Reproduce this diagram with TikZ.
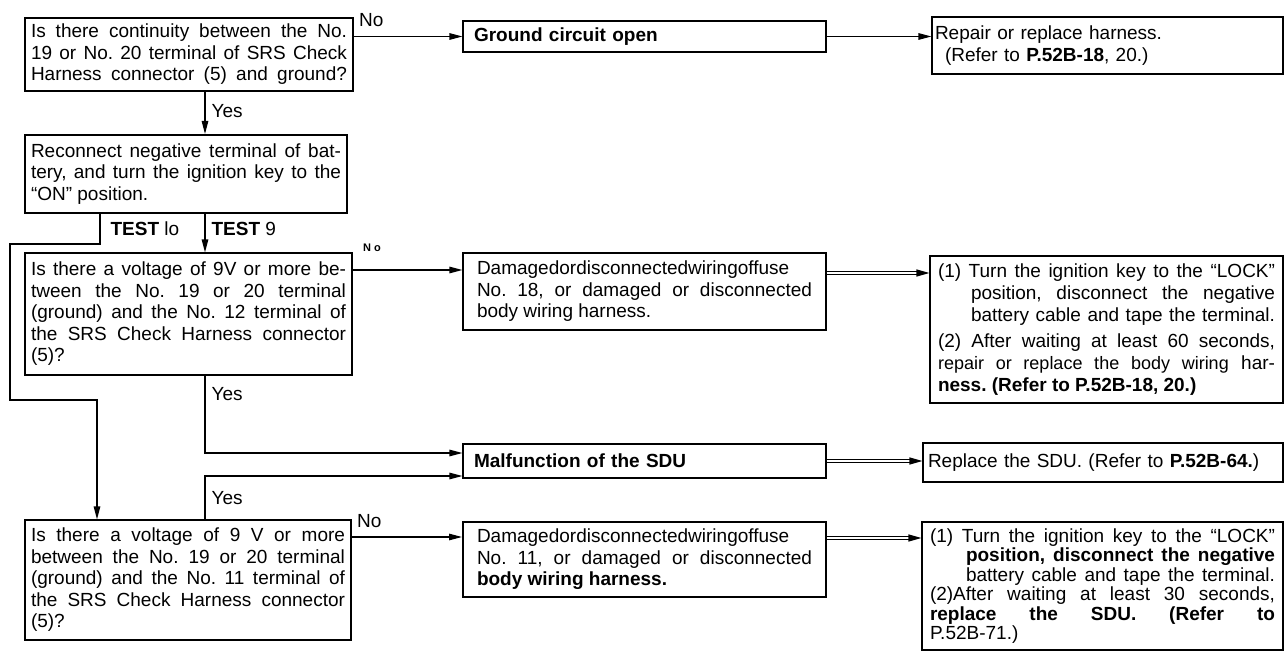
\documentclass[tikz,border=0pt]{standalone}
\usepackage{fontspec}
\setmainfont{Liberation Sans}
\usetikzlibrary{arrows.meta, positioning, calc}
\frenchspacing
\pretolerance=10000
\tolerance=10000
\hbadness=10000
\newcommand{\boxfont}{\fontsize{19}{21.5}\selectfont}

\begin{document}
\begin{tikzpicture}[
    x=1pt, y=-1pt,
    box/.style={draw, line width=1.1pt, font=\boxfont, align=justify, inner ysep=2pt},
    heavybox/.style={box, line width=2pt},
    linebox/.style={box, align=left},
    edge/.style={draw, line width=1.2pt, -{Triangle[length=13pt,width=6.5pt]}},
    dedge/.style={draw, line width=1.1pt, double, double distance=2.2pt, -{Triangle[length=13pt,width=7pt]}},
    lbl/.style={font=\boxfont, inner sep=2pt},
    nolbl/.style={lbl, anchor=south west, xshift=3pt, yshift=7pt}
]
\useasboundingbox (0,0) rectangle (1286,671);

% Left column: checks
\node[box, minimum width=328pt, minimum height=73pt, text width=316pt, inner xsep=6pt] (qcont) at (189,54.5) {
    Is there continuity between the No.\linebreak 19 or No. 20 terminal of SRS Check\linebreak Harness connector (5) and ground?{\parfillskip=0pt\par}
};
\node[heavybox, minimum width=322pt, minimum height=78pt, text width=310pt, inner xsep=6pt] (reconn) at (186,174) {
    Reconnect negative terminal of bat-\linebreak tery, and turn the ignition key to the\linebreak “ON” position.
};
\node[box, minimum width=327pt, minimum height=122pt, text width=315pt, inner xsep=6pt] (qv12) at (188.5,314) {
    Is there a voltage of 9V or more be-\linebreak tween the No. 19 or 20 terminal\linebreak (ground) and the No. 12 terminal of\linebreak the SRS Check Harness connector\linebreak (5)?
};
\node[box, minimum width=326pt, minimum height=120pt, text width=314pt, inner xsep=6pt] (qv11) at (188,580) {
    Is there a voltage of 9 V or more\linebreak between the No. 19 or 20 terminal\linebreak (ground) and the No. 11 terminal of\linebreak the SRS Check Harness connector\linebreak (5)?
};

% Middle column: causes
\node[linebox, minimum width=363pt, minimum height=31pt, text width=341pt, inner xsep=11pt] (gopen) at (644.5,36.5) {\textbf{Ground circuit open}};
\node[box, minimum width=363pt, minimum height=77pt, text width=335pt, inner xsep=14pt] (dmg18) at (644.5,291.5) {
    Damagedordisconnectedwiringoffuse\linebreak No. 18, or damaged or disconnected\linebreak body wiring harness.
};
\node[linebox, minimum width=363pt, minimum height=34pt, text width=341pt, inner xsep=11pt] (sdufail) at (644.5,461) {\textbf{Malfunction of the SDU}};
\node[heavybox, minimum width=363pt, minimum height=75pt, text width=335pt, inner xsep=14pt] (dmg11) at (644.5,559.5) {
    Damagedordisconnectedwiringoffuse\linebreak No. 11, or damaged or disconnected\linebreak \textbf{body wiring harness.}
};

% Right column: remedies
\node[linebox, minimum width=351pt, minimum height=57pt, text width=345pt, inner xsep=3pt] (repair) at (1107.5,45.5) {
    Repair or replace harness.\\\hspace*{10pt}(Refer to \textbf{P.52B-18}, 20.)
};
\node[box, minimum width=353pt, minimum height=147pt, text width=337pt, inner xsep=8pt, font=\fontsize{19}{22}\selectfont] (lock60) at (1106.5,329.5) {
    \hangindent=33pt \hangafter=1 (1) Turn the ignition key to the “LOCK”\linebreak position, disconnect the negative\linebreak battery cable and tape the terminal.{\parfillskip=0pt\par}\vspace{4pt}
    \hangindent=33pt \hangafter=1 (2) After waiting at least 60 seconds,\linebreak {\fontsize{18}{22}\selectfont repair or replace the body wiring} har-\linebreak \textbf{ness. (Refer to P.52B-18, 20.)}
};
\node[linebox, minimum width=360pt, minimum height=39pt, text width=350pt, inner xsep=5pt] (rplsdu) at (1103,462.5) {
    Replace the SDU. (Refer to \textbf{P.52B-64.})
};
\node[box, minimum width=361pt, minimum height=128pt, text width=345pt, inner xsep=8pt, font=\fontsize{19}{19.5}\selectfont] (lock30) at (1102.5,586) {
    \hangindent=36pt \hangafter=1 (1) Turn the ignition key to the “LOCK”\linebreak \textbf{position, disconnect the negative}\linebreak battery cable and tape the terminal.{\parfillskip=0pt\par}
    \hangindent=36pt \hangafter=1 (2)After waiting at least 30 seconds,\linebreak \textbf{replace the SDU. (Refer to}\linebreak P.52B-71.)
};

% Entry points on the cause boxes
\coordinate (d18in) at ([yshift=21.5pt]dmg18.west);
\coordinate (d18out) at ([yshift=18.5pt]dmg18.east);
\coordinate (sduinA) at ([yshift=8pt]sdufail.west);
\coordinate (sduinB) at ([yshift=-15pt]sdufail.west);
\coordinate (d11in) at ([yshift=22.5pt]dmg11.west);
\coordinate (d11out) at ([yshift=21.5pt]dmg11.east);
\coordinate (bendL) at (10,400);

% Connecting Arrows
\draw[edge] (gopen.west -| qcont.east) -- (gopen.west) node[nolbl, pos=0] {No};
\draw[edge] (gopen.east) -- (gopen.east -| repair.west);
\draw[edge] ([xshift=16pt]qcont.south) -- ([xshift=16pt]qcont.south |- reconn.north) node[lbl, pos=0.45, right=4pt] {Yes};
\draw[edge] ([xshift=19pt]reconn.south) -- ([xshift=19pt]reconn.south |- qv12.north) node[lbl, pos=0.4, right=4pt] {\textbf{TEST} 9};
\draw[edge] ([xshift=-86pt]reconn.south) -- ++(0,30) node[lbl, midway, right=8pt] {\textbf{TEST} lo} -| (bendL) -| ([xshift=-91pt]qv11.north);
\draw[edge] (d18in -| qv12.east) -- (d18in) node[lbl, pos=0, anchor=south west, xshift=8pt, yshift=16pt, font=\fontsize{11}{13}\selectfont\bfseries] {N o};
\draw[dedge] (d18out) -- (d18out -| lock60.west);
\draw[edge] ([xshift=16.5pt]qv12.south) |- (sduinA) node[lbl, pos=0.12, right=4pt] {Yes};
\draw[edge] ([xshift=17pt]qv11.north) |- (sduinB) node[lbl, pos=0.25, right=4pt] {Yes};
\draw[dedge] (sdufail.east) -- (sdufail.east -| rplsdu.west);
\draw[edge] (d11in -| qv11.east) -- (d11in) node[nolbl, pos=0] {No};
\draw[dedge] (d11out) -- (d11out -| lock30.west);

\end{tikzpicture}
\end{document}
